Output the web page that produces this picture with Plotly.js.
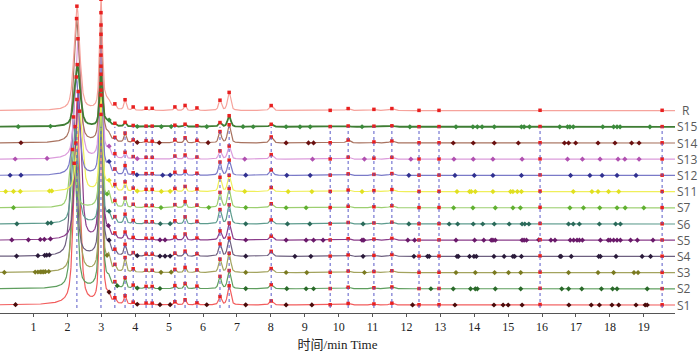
<!DOCTYPE html>
<html><head><meta charset="utf-8">
<script src="https://cdn.plot.ly/plotly-3.0.1.min.js"></script>
<style>html,body{margin:0;padding:0;background:#fff}#chart{width:700px;height:354px}</style>
</head><body><div id="chart"></div>
<script>
// ---- data ----
const sampleNames = ['S1','S2','S3','S4','S5','S6','S7','S11','S12','S13','S14','S15','R'];
// common peak retention times (min)
const commonRT = [2.28, 2.99, 3.40, 3.70, 3.94, 4.32, 4.50, 5.17, 5.47, 5.82, 6.50, 6.77, 8.01, 9.75, 10.28, 11.04, 11.57, 12.37, 12.96, 15.94, 19.54];
// retention time of the first major peak in each sample (order of sampleNames)
const firstPeakRT = [2.28, 2.20, 2.25, 2.18, 2.32, 2.23, 2.15, 2.36, 2.26, 2.31, 2.27, 2.29, 2.28];
// shoulder peaks after the second major peak
const shoulderRT = [3.12, 3.22];
// peak heights at commonRT for each sample
const h_S1  = [205,185, 4, 8, 2,1.5,1.5, 3, 5, 2, 8,19, 4,0.2,1.5,1,1.8,0.2,0.3,0.5,0.2];
const h_S2  = [125,218, 4,10, 3, 2, 2, 3, 5,2.5,12,18, 4,0.2,1.5,1,1.8,0.2,0.3,0.5,0.2];
const h_S3  = [129,177, 5,14, 3, 2, 2, 3, 5,2.5,13,19, 4,0.2,1.5,1,1.8,0.2,0.3,0.5,0.2];
const h_S4  = [139,196, 4,11, 3, 2, 2, 3, 5,2.5,12,18, 5,0.2,1.5,1,1.8,0.2,0.3,0.5,0.2];
const h_S5  = [148,210, 4, 7, 2,1.5,1.5,3, 6, 2, 9,17, 4,0.2,1.5,1,1.8,0.2,0.3,0.5,0.2];
const h_S6  = [ 97,114, 5, 9, 3, 2, 2, 3, 7,2.5,14,19, 4,0.2,1.5,1,1.8,0.2,0.3,0.5,0.2];
const h_S7  = [ 58,120, 5, 9, 3, 2, 2, 3, 6,2.5,15,19, 4,0.2,1.5,1,2,0.2,0.3,0.5,0.2];
const h_S11 = [ 80, 92, 5, 9, 3, 2, 2, 3, 5,2.5,14,16, 4,0.2,1.5,1,2,0.2,0.3,0.5,0.2];
const h_S12 = [ 98,124, 4, 9, 2,1.5,1.5,3, 4, 2,13,15,5.5,0.2,1.5,1,1.8,0.2,0.3,0.5,0.2];
const h_S13 = [120,120, 3, 6, 2,1.5,1.5,3, 4, 2, 8,13,4.5,0.2, 2,1,1.8,0.2,0.2,0.3,0.2];
const h_S14 = [124,125, 3, 9,2.5,2,1.5, 3, 5,2.5,11,18, 6,0.2, 3,1, 2,0.2,0.2,0.3,0.2];
const h_S15 = [ 62, 49, 2, 4, 1,0.5,0.5,1.5,2.5,1, 4,11,2.5,0.2,0.8,0.6,1,0.1,0.2,0.3,0.2];
const h_R   = [104,105, 4,10, 3, 2, 2,3.5, 5,2.5,10,18, 5,0.2, 2,1.2,2,0.2,0.2,0.3,0.3];
// shoulder heights [tail, bump]
const sh_S1 = [6,4], sh_S2 = [6,5], sh_S3 = [7,10], sh_S4 = [7,7], sh_S5 = [6,4], sh_S6 = [6,6], sh_S7 = [6,10];
const sh_S11 = [6,5], sh_S12 = [6,7], sh_S13 = [6,6], sh_S14 = [7,3], sh_S15 = [5,2], sh_R = [9,3];
// non-common detected peaks (min)
const ex_S1  = [0.47,3.23,4.06,4.73,5.03,6.11,7.26,8.45,9.21,12.18,13.43,14.58,14.85,15.0,15.41,16.79,17.45,17.69,18.06,18.26,18.77,19.04,19.1];
const ex_S2  = [3.47,4.06,4.73,7.26,8.47,9.04,9.26,12.72,13.38,13.89,14.03,14.09,14.62,15.37,16.58,16.78,17.17,17.75,18.08,18.21,19.1];
const ex_S3  = [0.14,1.05,1.13,1.2,1.25,1.3,1.35,1.45,3.17,4.76,5.06,7.26,8.45,9.06,10.76,13.46,14.03,14.6,15.01,15.37,16.78,17.65,18.11,18.71,18.83];
const ex_S4  = [0.5,1.13,1.33,1.39,1.47,3.23,4.06,4.73,4.88,5.03,7.26,8.71,9.18,10.72,12.22,12.62,12.67,13.49,13.53,13.86,13.99,14.06,14.58,14.88,15.14,15.19,15.39,16.53,16.56,16.86,17.67,17.72,18.18,18.95,19.2];
const ex_S5  = [0.36,0.85,1.2,1.32,1.5,3.21,4.73,4.88,7.26,8.45,9.04,9.26,9.54,10.69,10.74,12.04,12.24,13.46,14.01,14.28,14.5,14.55,14.62,15.41,15.47,15.54,15.9,16.26,16.38,16.83,16.93,17.03,17.1,17.19,17.72,17.95,18.01,18.11,18.21,18.31,18.61,18.81,19.27];
const ex_S6  = [0.51,1.42,1.52,3.23,4.74,5.03,7.26,8.49,9.15,10.72,12.07,13.26,13.51,13.97,14.25,14.59,15.03,15.41,15.49,15.61,16.78,16.92,17.1,17.69,18.17,18.31];
const ex_S7  = [0.41,3.17,4.76,6.17,7.26,8.45,9.04,13.39,13.96,14.62,15.14,15.36,16.82,17.22,17.7,18.21,18.45,19.0];
const ex_S11 = [0.18,0.41,0.61,1.47,1.54,3.23,4.06,4.77,5.03,7.23,8.51,9.21,10.69,13.49,13.86,13.91,14.03,14.55,15.07,15.14,15.27,15.39,16.92,17.47,17.65,17.96,18.26];
const ex_S12 = [0.31,0.63,3.23,4.05,4.81,5.03,7.26,8.47,9.16,12.07,13.43,14.0,14.55,15.39,16.84,17.41,17.77,18.21,18.77];
const ex_S13 = [0.46,1.40,3.23,4.06,7.23,9.23,10.76,12.13,13.4,13.97,14.55,15.41,16.75,17.19,17.71,18.24,18.44,18.86];
const ex_S14 = [0.63,4.06,4.71,6.15,8.45,9.11,9.26,13.38,13.97,14.59,15.3,16.66,16.78,16.99,17.65,18.15,18.64,18.86];
const ex_S15 = [0.55,1.50,3.23,4.06,4.77,5.06,6.11,7.18,7.48,8.45,8.86,9.16,10.69,12.1,13.46,13.96,14.09,14.23,14.59,15.39,15.47,15.63,16.52,16.75,16.82,16.92,17.79,18.11,18.21,18.30,19.18];
const ex_R   = [];
const xTicks = [1,2,3,4,5,6,7,8,9,10,11,12,13,14,15,16,17,18,19];

// ---- styles ----
const lineColors = {S1:'#f25c5c',S2:'#5e9e5e',S3:'#a3a35e',S4:'#6e6080',S5:'#8a3c8a',S6:'#5e9c8e',S7:'#9ccf70',
  S11:'#f0ef5a',S12:'#7a7ac8',S13:'#dc9cdc',S14:'#a8725f',S15:'#3f7d34',R:'#f6a39c'};
const markColors = {S1:'#4a0a0a',S2:'#2a6a2a',S3:'#7a7a20',S4:'#2a1a3a',S5:'#6a1a6a',S6:'#2a6a5a',S7:'#60b030',
  S11:'#e0e020',S12:'#303090',S13:'#b050b0',S14:'#6a1010',S15:'#3a8a3a',R:'#e82020'};
const H = {S1:h_S1,S2:h_S2,S3:h_S3,S4:h_S4,S5:h_S5,S6:h_S6,S7:h_S7,S11:h_S11,S12:h_S12,S13:h_S13,S14:h_S14,S15:h_S15,R:h_R};
const SH = {S1:sh_S1,S2:sh_S2,S3:sh_S3,S4:sh_S4,S5:sh_S5,S6:sh_S6,S7:sh_S7,S11:sh_S11,S12:sh_S12,S13:sh_S13,S14:sh_S14,S15:sh_S15,R:sh_R};
const EX = {S1:ex_S1,S2:ex_S2,S3:ex_S3,S4:ex_S4,S5:ex_S5,S6:ex_S6,S7:ex_S7,S11:ex_S11,S12:ex_S12,S13:ex_S13,S14:ex_S14,S15:ex_S15,R:ex_R};

const peakW = [0.2,0.1,0.08,0.08,0.07,0.07,0.07,0.08,0.08,0.08,0.1,0.11,0.12,0.12,0.14,0.15,0.15,0.15,0.15,0.15,0.15];
const shW = [0.3, 0.08];
function pv(x,c,w,h){const d=(x-c)/w; return h*(0.5/(1+4*d*d)+0.5*Math.exp(-2.7726*d*d));}

const xMin = 0.0, xMax = 19.92, step = 0.005;
const xs = []; for (let x=xMin; x<=xMax+1e-9; x+=step) xs.push(+x.toFixed(3));
const base0 = 8, gap = 16.2;

const traces = [], annotations = [], shapes = [];
const curves = {};
sampleNames.forEach((nm,i)=>{
  const off = base0 + gap*i;
  const rts = commonRT.slice(); rts[0] = firstPeakRT[i];
  const f = x => {
    let v = off;
    for (let k=0;k<rts.length;k++) v += pv(x, rts[k], peakW[k], H[nm][k]);
    for (let k=0;k<shoulderRT.length;k++) v += pv(x, shoulderRT[k], shW[k], SH[nm][k]);
    return v;
  };
  curves[nm] = {f, rts, off};
});
sampleNames.forEach((nm,i)=>{
  const c = curves[nm];
  traces.push({type:'scatter',mode:'lines',x:xs,y:xs.map(c.f),hoverinfo:'skip',
    line:{color:lineColors[nm],width:nm==='S15'?1.8:1.2},showlegend:false});
});
sampleNames.forEach((nm,i)=>{
  const c = curves[nm];
  const ex = EX[nm];
  if (ex.length) traces.push({type:'scatter',mode:'markers',x:ex,y:ex.map(c.f),hoverinfo:'skip',showlegend:false,
    marker:{symbol:'diamond',size:4,color:markColors[nm]}});
  traces.push({type:'scatter',mode:'markers',x:c.rts,y:c.rts.map(c.f),hoverinfo:'skip',showlegend:false,
    marker:{symbol:'square',size:3.5,color:'#e82020'}});
  annotations.push({xref:'paper',yref:'y',x:1,y:c.off,xanchor:'left',yanchor:'middle',
    xshift: nm==='R'?5:0, text:nm,showarrow:false,font:{family:'Open Sans, Noto Sans, sans-serif',size:12,color:'#5a5a5a'}});
});
commonRT.forEach(rt=>{
  shapes.push({type:'line',xref:'x',yref:'y',x0:rt,x1:rt,y0:5,y1:base0+gap*11,layer:'above',
    line:{color:'#5a5ac8',width:1,dash:'dot'}});
});

const layout = {
  width:700,height:354,margin:{l:0,r:25,t:0,b:41},paper_bgcolor:'#fff',plot_bgcolor:'#fff',
  xaxis:{range:[0.012,19.92],tickvals:xTicks,ticktext:xTicks.map(String),ticks:'outside',ticklen:3,tickcolor:'#555',
    showline:true,linecolor:'#555',linewidth:1,showgrid:false,zeroline:false,
    tickfont:{family:'Liberation Serif, Times New Roman, serif',size:12,color:'#222'},
    title:{text:'时间/min Time',standoff:6,font:{family:'Liberation Serif, Noto Sans CJK SC, serif',size:13,color:'#222'}}},
  yaxis:{range:[0,313],visible:false,fixedrange:true},
  annotations, shapes, showlegend:false
};
Plotly.newPlot('chart',traces,layout,{staticPlot:true,displayModeBar:false});
</script></body></html>
